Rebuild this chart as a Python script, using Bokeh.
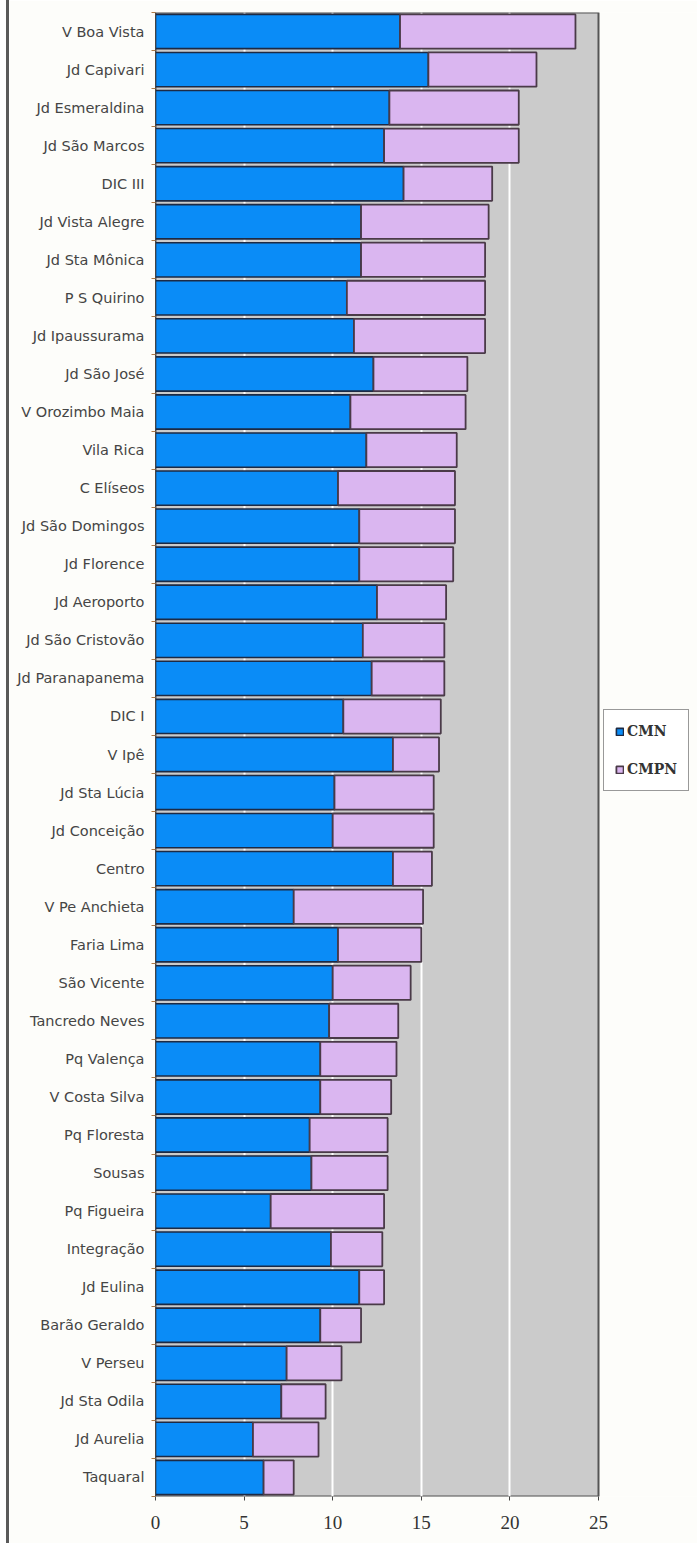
from bokeh.plotting import figure
from bokeh.models import ColumnDataSource, Legend, LegendItem, FixedTicker, Div
from bokeh.layouts import row
from bokeh.embed import file_html
from bokeh.resources import INLINE

# Bairros, de cima para baixo
bairros = [
    "V Boa Vista", "Jd Capivari", "Jd Esmeraldina", "Jd São Marcos", "DIC III",
    "Jd Vista Alegre", "Jd Sta Mônica", "P S Quirino", "Jd Ipaussurama",
    "Jd São José", "V Orozimbo Maia", "Vila Rica", "C Elíseos",
    "Jd São Domingos", "Jd Florence", "Jd Aeroporto", "Jd São Cristovão",
    "Jd Paranapanema", "DIC I", "V Ipê", "Jd Sta Lúcia", "Jd Conceição",
    "Centro", "V Pe Anchieta", "Faria Lima", "São Vicente", "Tancredo Neves",
    "Pq Valença", "V Costa Silva", "Pq Floresta", "Sousas", "Pq Figueira",
    "Integração", "Jd Eulina", "Barão Geraldo", "V Perseu", "Jd Sta Odila",
    "Jd Aurelia", "Taquaral",
]
cmn = [13.8, 15.4, 13.2, 12.9, 14.0, 11.6, 11.6, 10.8, 11.2, 12.3,
       11.0, 11.9, 10.3, 11.5, 11.5, 12.5, 11.7, 12.2, 10.6, 13.4,
       10.1, 10.0, 13.4, 7.8, 10.3, 10.0, 9.8, 9.3, 9.3, 8.7,
       8.8, 6.5, 9.9, 11.5, 9.3, 7.4, 7.1, 5.5, 6.1]
cmpn = [9.9, 6.1, 7.3, 7.6, 5.0, 7.2, 7.0, 7.8, 7.4, 5.3,
        6.5, 5.1, 6.6, 5.4, 5.3, 3.9, 4.6, 4.1, 5.5, 2.6,
        5.6, 5.7, 2.2, 7.3, 4.7, 4.4, 3.9, 4.3, 4.0, 4.4,
        4.3, 6.4, 2.9, 1.4, 2.3, 3.1, 2.5, 3.7, 1.7]
x_ticks = [0, 5, 10, 15, 20, 25]

n = len(bairros)
ypos = [n - 1 - i for i in range(n)]
total = [a + b for a, b in zip(cmn, cmpn)]
src = ColumnDataSource(dict(y=ypos, nome=bairros, cmn=cmn, total=total))

X_MAX = x_ticks[-1]
AREA_W = 443          # largura (px) da área de plotagem 0..25
FRAME_W = 542         # largura do quadro, incluindo a faixa da legenda

p = figure(width=688, height=1543, output_backend="svg", toolbar_location=None,
           x_range=(0, X_MAX * FRAME_W / AREA_W), y_range=(-0.5, n - 0.5),
           min_border_left=146, min_border_right=0,
           min_border_top=12, min_border_bottom=47)
p.background_fill_color = "#fdfdfa"
p.border_fill_color = "#fdfdfa"
p.outline_line_color = None

# área cinza de 0 a 25, por baixo das grades
fundo = p.quad(left=0, right=X_MAX, bottom=-0.5, top=n - 0.5,
               fill_color="#cbcbcb", line_color="#555555", line_width=2,
               level="image")

r_cmn = p.hbar(y="y", left=0, right="cmn", height=0.9, source=src,
               fill_color="#0a8cf7", line_color="#1d2a44", line_width=1.6)
r_cmpn = p.hbar(y="y", left="cmn", right="total", height=0.9, source=src,
                fill_color="#dab6f0", line_color="#4a3a48", line_width=1.8)

# eixo x
p.xaxis.ticker = FixedTicker(ticks=x_ticks)
p.xaxis.axis_line_color = None
p.xaxis.major_tick_line_color = "#444444"
p.xaxis.major_tick_out = 4
p.xaxis.major_tick_in = 0
p.xaxis.minor_tick_line_color = None
p.xaxis.major_label_text_font = "Liberation Serif"
p.xaxis.major_label_text_font_size = "19px"
p.xaxis.major_label_text_color = "#333333"
p.xaxis.major_label_standoff = 15

# eixo y: nomes nos centros, marcas entre as barras
p.yaxis.ticker = FixedTicker(ticks=ypos,
                             minor_ticks=[k - 0.5 for k in range(n + 1)])
p.yaxis.major_label_overrides = {float(y): nm for y, nm in zip(ypos, bairros)}
p.yaxis.major_tick_line_color = None
p.yaxis.major_tick_out = 0
p.yaxis.minor_tick_line_color = "#b07a48"
p.yaxis.minor_tick_out = 4
p.yaxis.minor_tick_in = 0
p.yaxis.axis_line_color = "#444444"
p.yaxis.major_label_text_font = "DejaVu Sans"
p.yaxis.major_label_text_font_size = "14.5px"
p.yaxis.major_label_text_color = "#454545"
p.yaxis.major_label_standoff = 7

p.xgrid.grid_line_color = "white"
p.xgrid.grid_line_width = 2
p.xgrid.ticker = FixedTicker(ticks=x_ticks[1:-1])
p.ygrid.grid_line_color = None

legend = Legend(items=[LegendItem(label="CMN", renderers=[r_cmn]),
                       LegendItem(label="CMPN", renderers=[r_cmpn])],
                location=(448, 705))
legend.border_line_color = "#333333"
legend.border_line_width = 1
legend.background_fill_color = "white"
legend.background_fill_alpha = 1
legend.label_text_font = "DejaVu Serif"
legend.label_text_font_style = "bold"
legend.label_text_font_size = "14px"
legend.label_text_color = "#333333"
legend.glyph_width = 9
legend.glyph_height = 9
legend.label_height = 20
legend.label_standoff = 3
legend.spacing = 18
legend.padding = 11
legend.margin = 0
p.add_layout(legend, "center")

# filete cinza à esquerda do quadro
filete = Div(width=3, height=1543, margin=(0, 0, 0, 6),
             styles={"background-color": "#5a5a5a"})
layout = row(filete, p, spacing=0)

open("out.html", "w").write(file_html(layout, INLINE))
